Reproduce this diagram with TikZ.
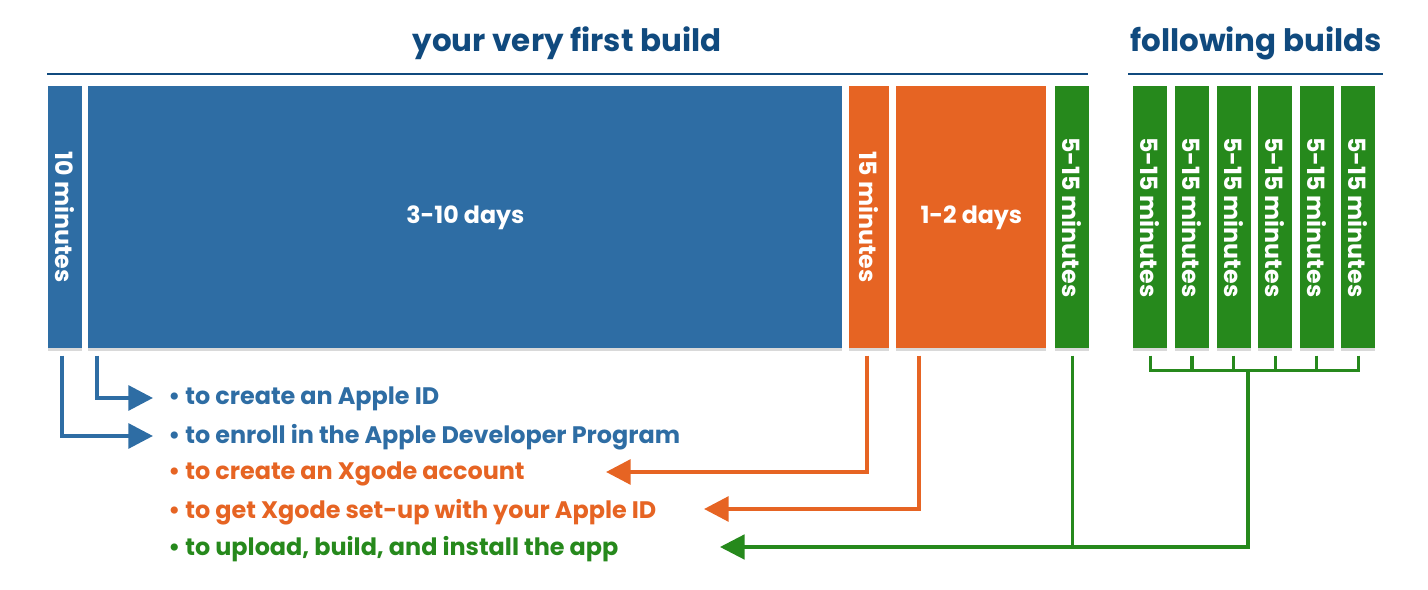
\documentclass[tikz,border=0pt]{standalone}
\usepackage{fontspec}
\setmainfont{Poppins}
\usetikzlibrary{positioning}
\usetikzlibrary{calc}
\usetikzlibrary{arrows.meta}
\usetikzlibrary{shadows}
\definecolor{titleblue}{RGB}{16,74,126}
\definecolor{barblue}{RGB}{46,109,164}
\definecolor{barorange}{RGB}{230,100,35}
\definecolor{bargreen}{RGB}{38,137,28}
\newcommand\px{0.02cm}
\tikzset{bar/.style={inner sep=0pt,anchor=north west,text=white,font=\bfseries\fontsize{13.5}{14}\selectfont,minimum height=262*\px,drop shadow={opacity=.3,shadow xshift=0pt,shadow yshift=-1.5pt}}}
\tikzset{heading/.style={text=titleblue,font=\bfseries\fontsize{17.6}{18}\selectfont}}
\tikzset{rule/.style={titleblue,line width=1.2pt}}
\tikzset{item/.style={anchor=west,inner sep=0pt,font=\bfseries\fontsize{13.6}{14}\selectfont}}
\tikzset{conn/.style={line width=2.3pt,-{Triangle[length=14pt,width=14pt]}}}
\tikzset{>=Triangle}

\begin{document}
\begin{tikzpicture}[x=\px,y=-\px]
\useasboundingbox (0,0) rectangle (1428,590);

\node[heading] (first) at (567,43) {your very first build};
\node[heading] (follow) at (1256,43) {following builds};
\draw[rule] (47,74) -- (1088,74);
\draw[rule] (1128,74) -- (1383,74);

\node[bar,fill=barblue,minimum width=34*\px] (ten) at (48,86) {\rotatebox{-90}{10 minutes}};
\node[bar,fill=barblue,minimum width=754*\px] (days3) at (88,86) {3-10 days};
\node[bar,fill=barorange,minimum width=40*\px] (fifteen) at (849,86) {\rotatebox{-90}{15 minutes}};
\node[bar,fill=barorange,minimum width=150*\px] (days1) at (896,86) {1-2 days};
\node[bar,fill=bargreen,minimum width=34*\px] (upload) at (1055,86) {\rotatebox{-90}{5-15 minutes}};
\foreach \i in {1,...,6}
  \node[bar,fill=bargreen,minimum width=34*\px] (up\i) at ({1133+(\i-1)*41.6},86) {\rotatebox{-90}{5-15 minutes}};

\node[item,text=barblue] (t1) at (168,399) {• to create an Apple ID};
\node[item,text=barblue] (t2) at (168,437) {• to enroll in the Apple Developer Program};
\node[item,text=barorange] (t3) at (168,474) {• to create an Xgode account};
\node[item,text=barorange] (t4) at (168,512) {• to get Xgode set-up with your Apple ID};
\node[item,text=bargreen] (t5) at (168,549) {• to upload, build, and install the app};

\coordinate (b1) at (153,398);
\coordinate (b2) at (153,436);
\coordinate (o1) at (606,472);
\coordinate (o2) at (704,509);
\coordinate (g1) at (720,547);
\coordinate (hub) at (1248,370);

\draw[conn,barblue] ($(days3.south west)+(9,7)$) |- (b1);
\draw[conn,barblue] ($(ten.south)+(-3,7)$) |- (b2);
\draw[conn,barorange] ($(fifteen.south)+(-2,7)$) |- (o1);
\draw[conn,barorange] ($(days1.south west)+(23,7)$) |- (o2);

\foreach \i in {1,...,6}
  \draw[bargreen,line width=1.8pt] ($(up\i.south)+(0,7)$) -- ($(up\i.south)+(0,22)$);
\draw[bargreen,line width=1.8pt,line cap=rect] ($(up1.south)+(0,22)$) -- ($(up6.south)+(0,22)$);
\draw[conn,bargreen,line width=1.8pt] (hub) |- (g1);
\draw[bargreen,line width=1.8pt] ($(upload.south)+(0,7)$) -- (upload.south |- g1);
\end{tikzpicture}
\end{document}
